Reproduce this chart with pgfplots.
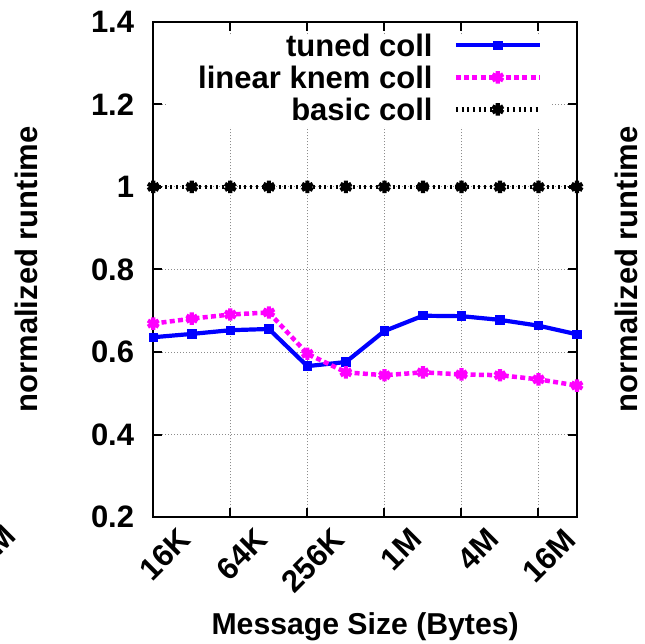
\documentclass[border=0pt]{standalone}
\usepackage{fontspec}
\setmainfont{Liberation Sans}
\usepackage{pgfplots}
\usepackage{pgfplotstable}
\pgfplotsset{compat=1.18}
\newcommand\cf{\fontsize{31bp}{36bp}\selectfont\bfseries}
\newcommand\xf{\fontsize{30.2bp}{36bp}\selectfont\bfseries}
\definecolor{tblue}{RGB}{0,0,255}
\definecolor{tmag}{RGB}{255,0,255}
\pgfplotstableread{
x tuned knem basic
14 0.636 0.669 1.0
15 0.644 0.681 1.0
16 0.653 0.691 1.0
17 0.656 0.696 1.0
18 0.566 0.596 1.0
19 0.576 0.551 1.0
20 0.651 0.544 1.0
21 0.688 0.551 1.0
22 0.687 0.546 1.0
23 0.678 0.544 1.0
24 0.664 0.534 1.0
25 0.643 0.519 1.0
}\datatable
\begin{document}
\begin{tikzpicture}
\begin{axis}[
  at={(0,0)}, anchor=south west,
  scale only axis, width=423.7bp, height=495.6bp,
  xmin=14, xmax=25, ymin=0.2, ymax=1.4,
  xtick={14,16,18,20,22,24},
  xticklabels={16K,64K,256K,1M,4M,16M},
  ytick={0.2,0.4,0.6,0.8,1.0,1.2,1.4},
  yticklabels={0.2,0.4,0.6,0.8,1,1.2,1.4},
  /pgf/number format/assume math mode=true,
  tick align=inside, major tick length=9bp,
  every tick/.style={black, line width=2bp},
  axis line style={line width=2.2bp},
  grid=major,
  grid style={black!45, line width=1bp, dash pattern=on 1bp off 2bp},
  font=\cf,
  xticklabel style={font=\cf, inner sep=0pt, xshift=24bp, yshift=-9bp, rotate=45, anchor=north east},
  yticklabel style={font=\cf, inner sep=0pt, xshift=-19bp, anchor=east},
  xlabel={Message Size (Bytes)},
  ylabel={normalized runtime},
  every axis x label/.style={at={(axis description cs:0.5,-0.2355)}, anchor=base, font=\xf},
  every axis y label/.style={at={(axis description cs:-0.2986,0.5)}, anchor=center, rotate=90, font=\cf},
  legend style={at={(axis description cs:0.918,0.975)}, anchor=north east, draw=none, fill=none,
    inner sep=0pt, row sep=9.8bp, column sep=21bp, font=\cf,
    nodes={inner sep=0pt, text height=22.2bp, text depth=0pt}},
  legend cell align=right, legend plot pos=right,
  legend image code/.code={\draw[mark repeat=2,mark phase=2,#1] plot coordinates {(0bp,0bp) (42bp,0bp) (84bp,0bp)};},
]
\fill[white] (rel axis cs:0.03,0.788) rectangle (rel axis cs:0.94,0.974);
\addplot[tblue, line width=4.2bp, mark=square*, mark size=2.6bp, mark options={solid}] table[x=x,y=tuned] {\datatable};
\addlegendentry{tuned coll}
\addplot[tmag, line width=4.5bp, dash pattern=on 5bp off 3.3bp, mark=asterisk, mark size=6.2bp, mark options={solid, line width=4.2bp}] table[x=x,y=knem] {\datatable};
\addlegendentry{linear knem coll}
\addplot[black, line width=4.5bp, dash pattern=on 2bp off 3.7bp, mark=asterisk, mark size=6.2bp, mark options={solid, line width=4.2bp}] table[x=x,y=basic] {\datatable};
\addlegendentry{basic coll}
\end{axis}
\node[font=\cf, inner sep=0pt, rotate=45, anchor=north east] at (-151bp,-5bp) {16M};
\node[font=\cf, rotate=90, anchor=center] at (472.7bp,247.8bp) {normalized runtime};
\pgfresetboundingbox
\path[use as bounding box] (-153.3bp,-126.7bp) rectangle (491.7bp,517.3bp);
\end{tikzpicture}
\end{document}
